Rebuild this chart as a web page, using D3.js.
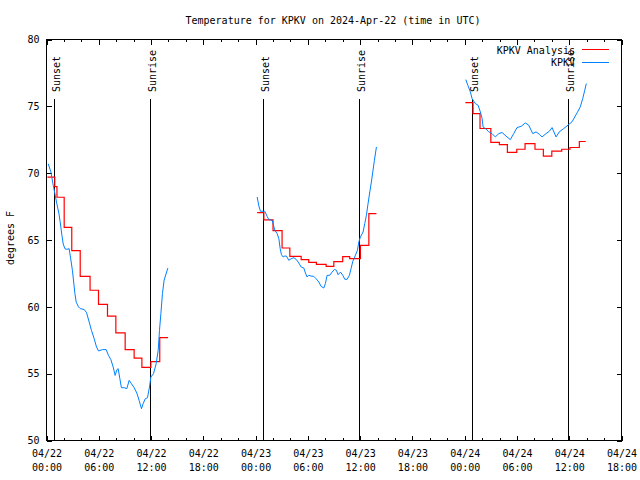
<!DOCTYPE html>
<html><head><meta charset="utf-8">
<script src="https://cdn.jsdelivr.net/npm/d3@7"></script>
<style>
body{margin:0;background:#fff}
svg{display:block}
text{font-family:"DejaVu Sans Mono","Liberation Mono",monospace;font-size:10px;fill:#000}
</style></head><body>
<svg id="chart" width="640" height="480"></svg>
<script>
// ---- data (hours since 2024-04-22 00:00 UTC, temperature in F) ----
const titleText = "Temperature for KPKV on 2024-Apr-22 (time in UTC)";
const yLabel = "degrees F";
const yTicks = [50, 55, 60, 65, 70, 75, 80];
const xMajorHours = [0, 6, 12, 18, 24, 30, 36, 42, 48, 54, 60, 66];
const xMinorHours = [2, 4, 8, 10, 14, 16, 20, 22, 26, 28, 32, 34, 38, 40, 44, 46, 50, 52, 56, 58, 62, 64];
const seriesNames = ["KPKV Analysis", "KPKV"];

const sunHours = [0.93, 11.97, 24.95, 35.93, 48.93, 59.9];
const sunLabels = ["Sunset", "Sunrise", "Sunset", "Sunrise", "Sunset", "Sunrise"];

const anaHours1 = [0.1,0.95,1.2,2.03,2.9,3.87,5.0,5.97,7.0,7.96,9.03,10.06,10.95,11.98,13.0,13.96];
const anaTemps1 = [69.7,69.0,68.2,65.95,64.2,62.28,61.24,60.19,59.3,58.05,56.8,56.17,55.47,55.9,57.7,57.7];
const anaHours2 = [24.18,24.95,26.0,27.04,27.93,29.23,30.1,30.98,32.1,32.98,34.0,34.8,36.03,37.0,37.87];
const anaTemps2 = [67.05,66.5,65.7,64.4,63.78,63.53,63.33,63.18,63.03,63.38,63.76,63.6,64.6,66.98,66.98];
const anaHours3 = [48.08,48.96,49.76,51.0,51.98,52.9,53.98,54.93,56.07,57.03,58.0,59.14,60.09,61.16,61.9];
const anaTemps3 = [75.28,74.46,73.34,72.3,72.14,71.56,71.79,72.21,71.79,71.27,71.65,71.79,71.92,72.37,72.37];

const obsHours1 = [0.2,0.5,0.77,1.0,1.19,1.42,1.57,1.77,1.92,2.11,2.34,2.6,2.8,2.98,3.26,3.41,3.67,3.87,4.33,4.59,4.9,5.16,5.47,5.74,5.97,6.43,6.85,7.11,7.39,7.65,7.88,8.08,8.23,8.42,8.6,8.92,9.22,9.49,9.75,10.06,10.37,10.63,10.9,11.09,11.33,11.59,11.82,11.98,12.28,12.59,12.82,12.97,13.13,13.31,13.5,13.93];
const obsTemps1 = [70.7,70.1,69.1,68.35,67.7,67.0,66.35,65.35,64.7,64.35,64.3,64.35,63.5,62.7,61.0,60.35,60.0,59.87,59.8,59.57,58.86,58.24,57.62,57.0,56.7,56.8,56.8,56.37,56.05,55.5,54.87,55.3,55.37,54.63,53.95,53.95,53.88,54.5,54.25,53.95,53.55,53.0,52.38,52.75,53.12,53.2,54.0,54.75,55.0,55.75,56.75,58.24,59.5,61.0,62.0,62.9];
const obsHours2 = [24.18,24.37,24.56,25.06,25.32,25.52,25.9,26.21,26.47,26.67,26.82,26.97,27.16,27.36,27.54,27.81,28.08,28.39,28.69,28.96,29.23,29.54,29.72,29.91,30.11,30.37,30.68,30.95,31.26,31.52,31.83,32.01,32.21,32.52,32.78,33.05,33.28,33.47,33.74,34.01,34.24,34.5,34.77,34.96,35.16,35.46,35.69,35.85,36.03,36.34,36.53,36.72,36.91,37.11,37.29,37.45,37.64,37.87];
const obsTemps2 = [68.22,67.55,67.15,67.15,66.77,66.53,66.47,65.73,65.48,65.1,64.36,63.9,63.73,63.8,63.8,63.48,63.6,63.68,63.53,63.28,62.98,62.9,62.53,62.23,62.36,62.3,62.28,62.1,61.86,61.53,61.41,61.74,62.36,62.36,62.6,62.8,62.73,62.4,62.6,62.36,62.06,62.06,62.36,62.86,63.41,63.86,64.23,64.85,65.22,65.6,66.23,66.85,67.73,68.6,69.34,70.09,70.97,71.96];
const obsHours3 = [48.13,48.36,48.65,48.85,49.22,49.54,49.8,50.0,50.11,50.37,50.76,51.14,51.52,51.91,52.29,52.86,53.24,53.63,54.01,54.5,54.96,55.35,55.81,56.19,56.57,56.88,57.34,57.72,58.03,58.49,58.86,59.37,59.86,60.32,60.9,61.27,61.55,61.78,61.96];
const obsTemps3 = [77.0,76.58,76.08,75.58,75.21,75.08,74.58,74.09,73.46,73.34,73.1,72.96,72.71,72.96,73.04,72.71,72.51,72.96,73.41,73.51,73.76,73.59,72.96,73.09,72.91,72.71,72.96,73.14,73.41,72.71,73.09,73.34,73.59,73.84,74.51,74.96,75.58,76.2,76.7];

// ---- drawing ----
const svg = d3.select("#chart");
const m = {left: 46.5, right: 621.5, top: 39.5, bottom: 440.5};
const t0 = Date.UTC(2024, 3, 22, 0, 0);
const toDate = h => new Date(t0 + h * 3600e3);
const x = d3.scaleUtc().domain([toDate(0), toDate(66)]).range([m.left, m.right]);
const y = d3.scaleLinear().domain([50, 80]).range([m.bottom, m.top]);
const RED = "#ff0000", BLUE = "#0080ff";

// title
svg.append("text").attr("x", 333).attr("y", 23.5).attr("text-anchor", "middle").text(titleText);

// axes
function styleAxis(g) {
  g.select(".domain").remove();
  g.selectAll(".tick line").attr("stroke", "#000").attr("shape-rendering", "crispEdges");
  g.selectAll("text").attr("font-family", null).attr("font-size", null);
}
const majorDates = xMajorHours.map(toDate), minorDates = xMinorHours.map(toDate);
const gxb = svg.append("g").attr("transform", `translate(0,${m.bottom})`)
  .call(d3.axisBottom(x).tickValues(majorDates).tickSize(-5).tickFormat(d3.utcFormat("%m/%d")))
  .call(styleAxis);
gxb.selectAll(".tick text").each(function(d) {
  const t = d3.select(this);
  t.text(null).attr("y", null).attr("dy", null);
  t.append("tspan").attr("x", 0).attr("y", 16.5).text(d3.utcFormat("%m/%d")(d));
  t.append("tspan").attr("x", 0).attr("y", 30.5).text(d3.utcFormat("%H:%M")(d));
});
svg.append("g").attr("transform", `translate(0,${m.bottom})`)
  .call(d3.axisBottom(x).tickValues(minorDates).tickSize(-2.5).tickFormat("")).call(styleAxis);
svg.append("g").attr("transform", `translate(0,${m.top})`)
  .call(d3.axisTop(x).tickValues(majorDates).tickSize(-5).tickFormat("")).call(styleAxis);
svg.append("g").attr("transform", `translate(0,${m.top})`)
  .call(d3.axisTop(x).tickValues(minorDates).tickSize(-2.5).tickFormat("")).call(styleAxis);
svg.append("g").attr("transform", `translate(${m.left},0)`)
  .call(d3.axisLeft(y).tickValues(yTicks).tickSize(-5).tickPadding(7)).call(styleAxis);
svg.append("g").attr("transform", `translate(${m.right},0)`)
  .call(d3.axisRight(y).tickValues(yTicks).tickSize(-5).tickFormat("")).call(styleAxis);

// frame
svg.append("rect").attr("x", m.left).attr("y", m.top)
  .attr("width", m.right - m.left).attr("height", m.bottom - m.top)
  .attr("fill", "none").attr("stroke", "#000").attr("shape-rendering", "crispEdges");

// y label
svg.append("text").attr("transform", "translate(13.5,238) rotate(-90)")
  .attr("text-anchor", "middle").text(yLabel);

// sun lines
sunHours.forEach((h, i) => {
  const sx = Math.floor(x(toDate(h))) + 0.5;
  svg.append("line").attr("x1", sx).attr("x2", sx).attr("y1", 99).attr("y2", m.bottom)
    .attr("stroke", "#000").attr("shape-rendering", "crispEdges");
  svg.append("text").attr("transform", `translate(${sx + 5},92) rotate(-90)`)
    .attr("text-anchor", "start").text(sunLabels[i]);
});

// series
const zip = (hs, vs) => hs.map((h, i) => [toDate(h), vs[i]]);
const stepLine = d3.line().x(d => x(d[0])).y(d => y(d[1])).curve(d3.curveStepAfter);
const obsLine = d3.line().x(d => x(d[0])).y(d => y(d[1]));
[[anaHours1, anaTemps1], [anaHours2, anaTemps2], [anaHours3, anaTemps3]].forEach(([h, v]) => {
  svg.append("path").attr("d", stepLine(zip(h, v))).attr("fill", "none")
    .attr("stroke", RED).attr("stroke-width", 1.2);
});
[[obsHours1, obsTemps1], [obsHours2, obsTemps2], [obsHours3, obsTemps3]].forEach(([h, v]) => {
  svg.append("path").attr("d", obsLine(zip(h, v))).attr("fill", "none")
    .attr("stroke", BLUE).attr("stroke-width", 1);
});

// legend
const legendY = [50, 62.5];
const legendColors = [RED, BLUE];
seriesNames.forEach((name, i) => {
  svg.append("text").attr("x", 575).attr("y", legendY[i] + 3.8).attr("text-anchor", "end").text(name);
  svg.append("line").attr("x1", 582).attr("x2", 609).attr("y1", legendY[i] - 0.5).attr("y2", legendY[i] - 0.5)
    .attr("stroke", legendColors[i]).attr("shape-rendering", "crispEdges");
});
</script>
</body></html>
